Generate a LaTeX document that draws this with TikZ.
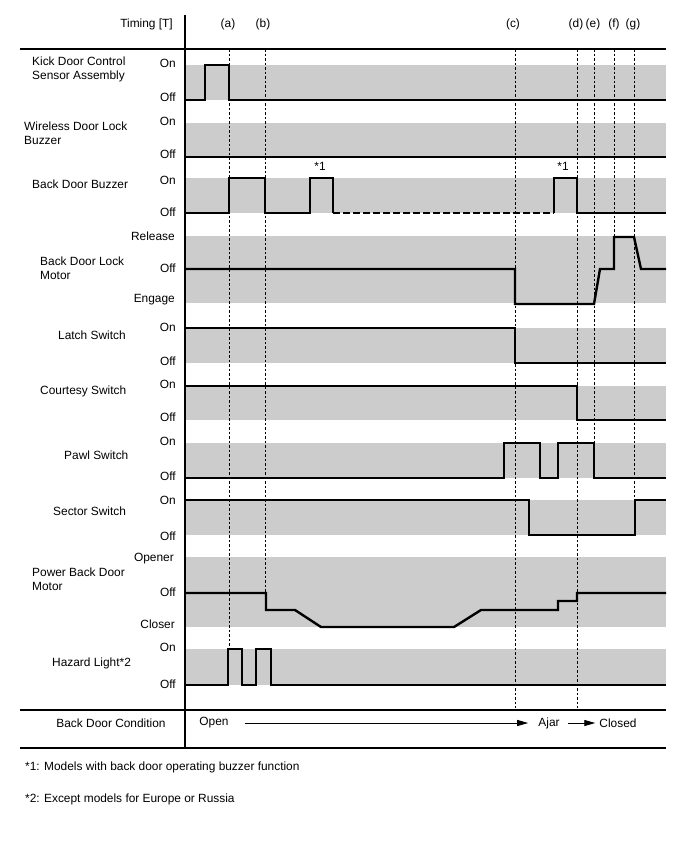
\documentclass[tikz,border=0pt]{standalone}
\usepackage{fontspec}
\setmainfont{Liberation Sans}
\usepackage{tikz}
\usetikzlibrary{positioning, arrows.meta}
\definecolor{bandgray}{RGB}{204,204,204}

\begin{document}
\begin{tikzpicture}[
    x=1pt, y=-1pt,
    txt/.style={font=\fontsize{11.9}{13.5}\selectfont, inner sep=0pt, align=left},
    level/.style={txt, anchor=east},
    rowname/.style={txt, anchor=west},
    band/.style={fill=bandgray, draw=none},
    sig/.style={line width=2.4pt, line join=miter},
    frame/.style={line width=1.3pt},
    gate/.style={line width=0.9pt, dash pattern=on 2.5pt off 2pt},
    arr/.style={line width=0.9pt, -{Triangle[length=11pt, width=6pt]}},
]
\useasboundingbox (0,0) rectangle (688,852);

% grey bands
\foreach \top/\bot in {65/100, 123/157, 178/213, 236/303, 328/363, 386/420, 443/478, 500/535, 557/627, 649/685}
  \fill[band] (185,\top) rectangle (666,\bot);

% timing gates
\foreach \x/\yend in {229/649, 265/593, 515/708, 577/708, 594/478, 614/237, 634/500}
  \draw[gate] (\x,49) -- (\x,\yend);

% header
\node[level] (timing) at (173,24) {Timing [T]};
\foreach \x/\t in {228/a, 263/b, 513/c, 576/d, 593/e, 614/f, 633/g}
  \node[txt] (gate-\t) at (\x,24) {(\t)};

% row names
\node[rowname, anchor=north west] (kick) at (32,57) {Kick Door Control\\Sensor Assembly};
\node[rowname, anchor=north west] (wireless) at (24,122) {Wireless Door Lock\\Buzzer};
\node[rowname] (buzzer) at (32,184) {Back Door Buzzer};
\node[rowname, anchor=north west] (lockmotor) at (40,257) {Back Door Lock\\Motor};
\node[rowname] (latch) at (58,335) {Latch Switch};
\node[rowname] (courtesy) at (40,391) {Courtesy Switch};
\node[rowname] (pawl) at (64,455) {Pawl Switch};
\node[rowname] (sector) at (53,511) {Sector Switch};
\node[rowname, anchor=north west] (pbdmotor) at (32,568) {Power Back Door\\Motor};
\node[rowname] (hazard) at (52,663) {Hazard Light*2};

% level names
\node[level] (kick-on) at (176,63) {On};
\node[level] (kick-off) at (176,97) {Off};
\node[level] (wireless-on) at (176,121) {On};
\node[level] (wireless-off) at (176,154) {Off};
\node[level] (buzzer-on) at (176,180) {On};
\node[level] (buzzer-off) at (176,212) {Off};
\node[level] (lock-rel) at (175,236) {Release};
\node[level] (lock-off) at (176,268) {Off};
\node[level] (lock-eng) at (175,300) {Engage};
\node[level] (latch-on) at (176,327) {On};
\node[level] (latch-off) at (176,361) {Off};
\node[level] (courtesy-on) at (176,384) {On};
\node[level] (courtesy-off) at (176,417) {Off};
\node[level] (pawl-on) at (176,441) {On};
\node[level] (pawl-off) at (176,476) {Off};
\node[level] (sector-on) at (176,500) {On};
\node[level] (sector-off) at (176,536) {Off};
\node[level] (pbd-open) at (174,559) {Opener};
\node[level] (pbd-off) at (176,592) {Off};
\node[level] (pbd-close) at (175,624) {Closer};
\node[level] (hazard-on) at (176,647) {On};
\node[level] (hazard-off) at (176,684) {Off};

% waveforms
\draw[sig] (185,100) -- (205,100) -- (205,65) -- (229,65) -- (229,100) -- (666,100);
\draw[sig] (185,157) -- (666,157);
\draw[sig] (185,213) -- (229,213) -- (229,178) -- (265,178) -- (265,213) -- (310,213)
  -- (310,178) -- (333,178) -- (333,213);
\draw[sig, dash pattern=on 7pt off 3pt] (333,213) -- (554,213);
\draw[sig] (554,213) -- (554,178) -- (577,178) -- (577,213) -- (666,213);
\node[txt] (star1a) at (320,166) {*1};
\node[txt] (star1b) at (563,166) {*1};
\draw[sig] (185,269) -- (515,269) -- (515,304) -- (594,304) -- (600,269) -- (614,269)
  -- (614,237) -- (634,237) -- (641,269) -- (666,269);
\draw[sig] (185,328) -- (515,328) -- (515,363) -- (666,363);
\draw[sig] (185,386) -- (577,386) -- (577,420) -- (666,420);
\draw[sig] (185,478) -- (504,478) -- (504,443) -- (540,443) -- (540,478) -- (558,478)
  -- (558,443) -- (594,443) -- (594,478) -- (666,478);
\draw[sig] (185,500) -- (529,500) -- (529,535) -- (635,535) -- (635,500) -- (666,500);
\draw[sig] (185,593) -- (266,593) -- (266,610) -- (295,610) -- (321,627) -- (454,627)
  -- (481,610) -- (558,610) -- (558,601) -- (577,601) -- (577,593) -- (666,593);
\draw[sig] (185,685) -- (228,685) -- (228,649) -- (242,649) -- (242,685) -- (256,685)
  -- (256,649) -- (271,649) -- (271,685) -- (666,685);

% table rules
\draw[frame] (20,49) -- (666,49);
\draw[frame] (20,710) -- (666,710);
\draw[frame] (20,748) -- (666,748);
\draw[frame] (185,15) -- (185,748);

% door condition
\node[txt] (condition) at (111,723) {Back Door Condition};
\node[txt] (open) at (214,723) {Open};
\node[txt] (ajar) at (549,723) {Ajar};
\node[txt] (closed) at (618,723) {Closed};
\draw[arr, shorten <=16pt, shorten >=10pt] (open) -- (ajar);
\draw[arr, shorten <=8pt, shorten >=4pt] (ajar) -- (closed);

% notes
\node[rowname] (note1) at (25,767) {*1: Models with back door operating buzzer function};
\node[rowname] (note2) at (25,799) {*2: Except models for Europe or Russia};
\end{tikzpicture}
\end{document}
